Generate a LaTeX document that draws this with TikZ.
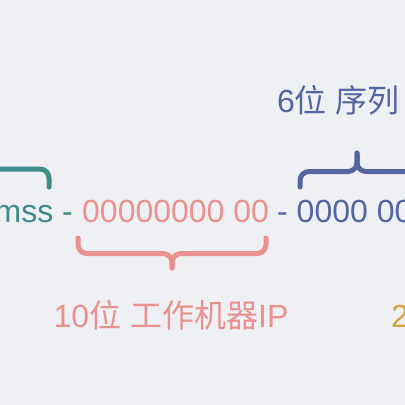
\documentclass[tikz,border=0pt]{standalone}
\usepackage{fontspec}
\setmainfont{Liberation Sans}
\newfontfamily\cjk{Noto Sans CJK SC}
\definecolor{bgc}{HTML}{EFF0F3}
\definecolor{tealc}{HTML}{3F8C8A}
\definecolor{pinkc}{HTML}{E8918F}
\definecolor{bluec}{HTML}{5366A3}
\definecolor{goldc}{HTML}{D4A537}
\begin{document}
\begin{tikzpicture}[x=1pt,y=-1pt,
  lbl/.style={inner sep=0pt, font=\fontsize{32}{36}\selectfont},
  brace/.style={line width=5pt, line cap=round, line join=round, rounded corners=9pt}]
\useasboundingbox (0,0) rectangle (405,405);
\fill[bgc] (0,0) rectangle (405,405);
% main line
\node[lbl, text=pinkc, anchor=base west] (ip) at (82,222) {00000000 00};
\node[lbl, text=tealc, anchor=base east] (ts) at (73.1,222) {mss -};
\node[lbl, text=bluec, anchor=base west] (seq) at (277,222) {- 0000 00};
% labels
\node[lbl, text=bluec, anchor=base west] (seqlbl) at (277,112) {6{\cjk 位} {\cjk 序列}};
\node[lbl, text=pinkc, anchor=base] (iplbl) at (171,327) {10{\cjk 位} {\cjk 工作机器}IP};
\node[lbl, text=goldc, anchor=base west] (other) at (391,327) {2};
% teal brace (partly off-picture)
\draw[brace, tealc] (-60,153) -- (-60,169) -- (49,169) -- (49,187);
% blue brace
\draw[brace, bluec] (300,187) -- (300,171.5) -- (357,171.5) -- (357,153);
\draw[brace, bluec] (414,187) -- (414,171.5) -- (357,171.5) -- (357,153);
% pink brace
\draw[brace, pinkc] (78,238) -- (78,253.5) -- (172,253.5) -- (172,268);
\draw[brace, pinkc] (266,238) -- (266,253.5) -- (172,253.5) -- (172,268);
\end{tikzpicture}
\end{document}
